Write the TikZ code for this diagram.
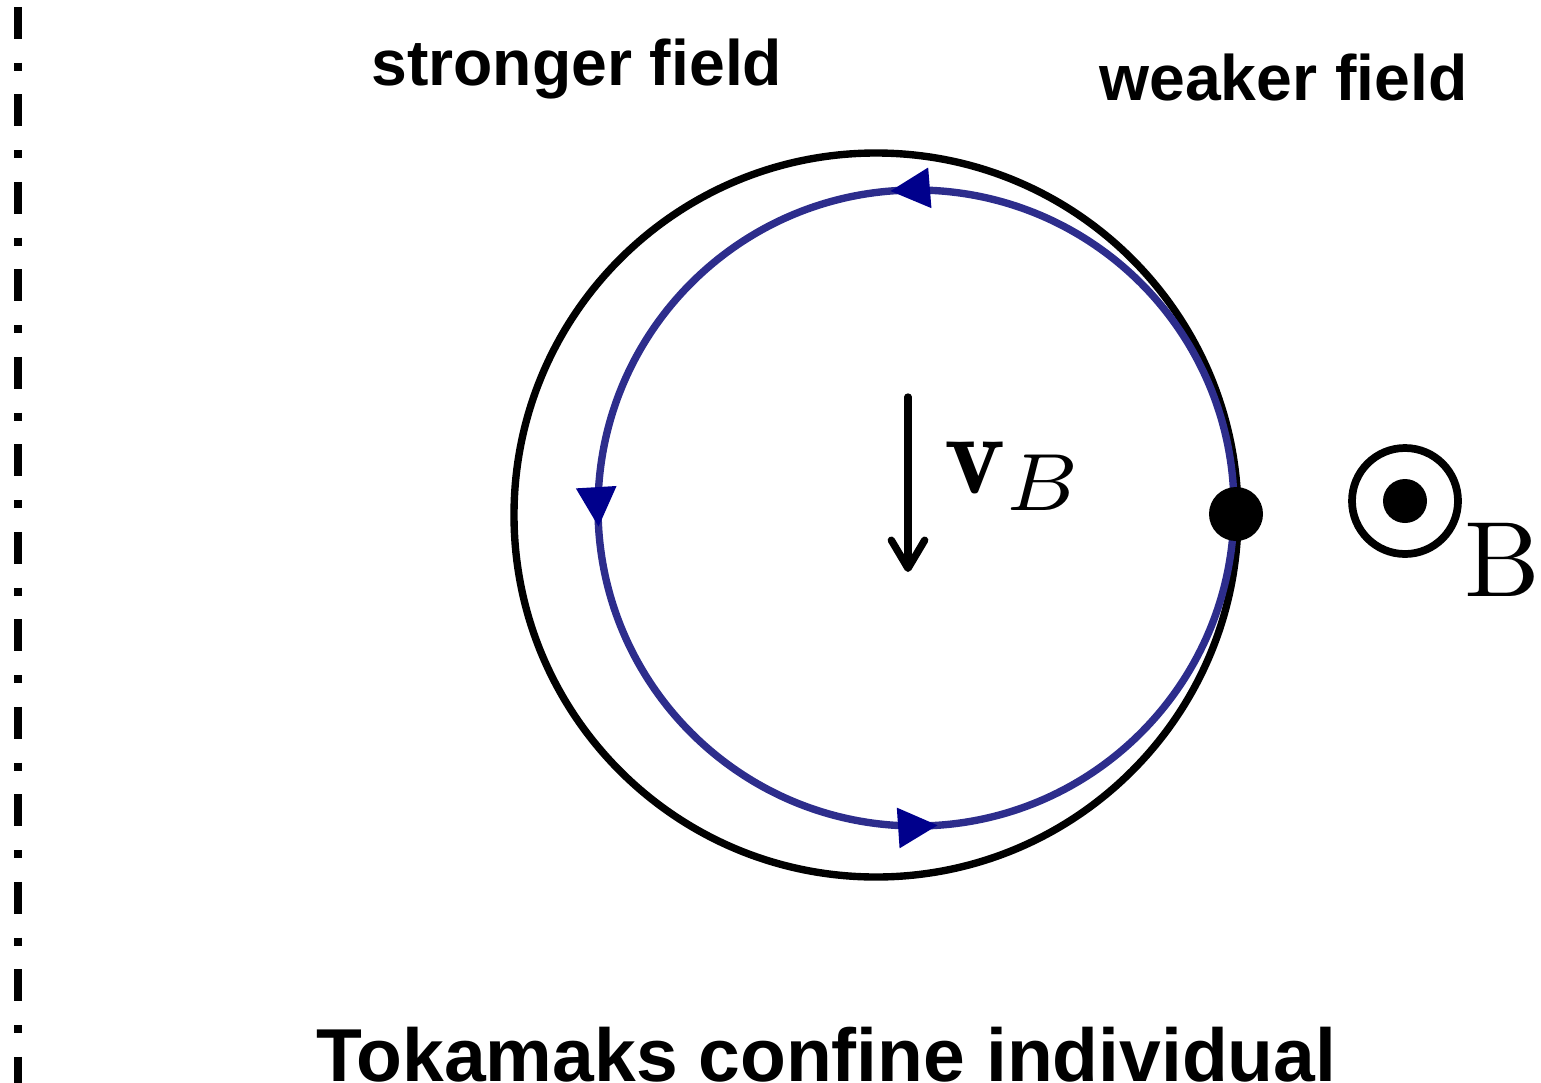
\documentclass[tikz,border=0pt]{standalone}
\usepackage{fontspec}
\setsansfont{Liberation Sans}
\usetikzlibrary{arrows.meta,decorations.markings}
\definecolor{OrbitClr}{RGB}{45,45,140}
\definecolor{TipClr}{RGB}{0,0,140}
\tikzset{OrbTip/.tip={Triangle[length=22.7pt,width=22pt,color=TipClr]}}

\begin{document}
\begin{tikzpicture}[x=0.02cm,y=-0.02cm,
  FieldLbl/.style={font=\sffamily\bfseries\fontsize{36.6}{40}\selectfont,inner sep=0,anchor=base west},
  orbit/.style={draw=OrbitClr,line width=4.2pt,postaction={decorate},
    decoration={markings,
      mark=at position 0.263 with {\arrow{OrbTip}},
      mark=at position 0.5095 with {\arrow{OrbTip}},
      mark=at position 0.761 with {\arrow{OrbTip}}}}]
\useasboundingbox (0,0) rectangle (1541,1082);
\clip (0,0) rectangle (1541,1082);

\coordinate (O) at (876,515);
\coordinate (C) at (916,508);
\coordinate (P) at (1236,514);
\coordinate (S) at (1405,501);
\coordinate (vtop) at (908,397);
\coordinate (vbot) at (908,572);
\coordinate (axtop) at (18,7);
\coordinate (axbot) at (18,1090);

\draw[line width=4.5pt,dash pattern=on 18.1pt off 13.6pt on 4.5pt off 13.6pt] (axtop) -- (axbot);

\draw[line width=4.2pt] (O) circle (362);
\draw[orbit] (C) ++(318,0) arc[start angle=0,end angle=-360,radius=318];
\fill (P) circle (27);

\draw[line width=4.2pt,line cap=round,-{Straight Barb[length=16pt,width=19pt,round]}] (vtop) -- (vbot);
\node[scale=6.6,inner sep=0,anchor=base west] (vB) at (942,493) {$\mathbf{v}_B$};

\draw[line width=4.4pt] (S) circle (53);
\fill (S) circle (22);
\node[scale=6.1,inner sep=0,anchor=base west] (Blbl) at (1462,596) {B};

\node[FieldLbl] (strong) at (371,85) {stronger field};
\node[FieldLbl] (weak) at (1099,100) {weaker field};
\node[inner sep=0,anchor=base west,font=\sffamily\bfseries\fontsize{42.7}{48}\selectfont] (title) at (316,1081) {Tokamaks confine individual};

\end{tikzpicture}
\end{document}
